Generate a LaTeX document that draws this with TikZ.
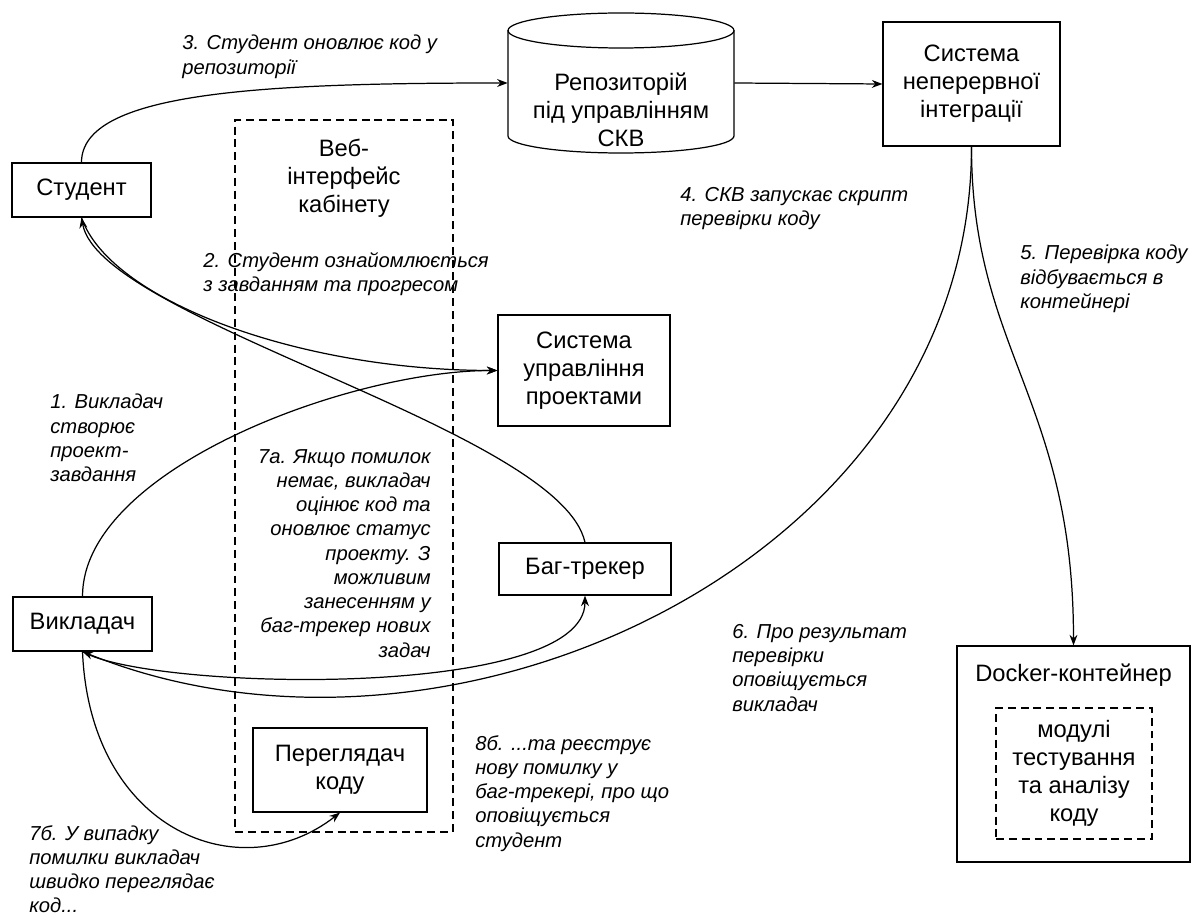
\documentclass[tikz,border=0pt]{standalone}
\usepackage{fontspec}
\setmainfont{Liberation Sans}
\usetikzlibrary{arrows.meta}

\begin{document}
\begin{tikzpicture}
    [x=0.02cm, y=-0.02cm,
    bsty/.style={rectangle, draw, line width=0.7pt, inner sep=0pt, align=center, font=\fontsize{13.5}{16}\selectfont},
    dsty/.style={rectangle, draw, line width=0.7pt, dash pattern=on 4.5pt off 2.8pt, inner sep=0pt},
    tsty/.style={align=center, inner sep=0pt, font=\fontsize{13.5}{16}\selectfont},
    lsty/.style={align=left, inner sep=0pt, font=\itshape\fontsize{11.5}{13.8}\selectfont},
    asty/.style={-{Stealth[length=6pt, width=4.5pt]}, line width=0.7pt}]
    \useasboundingbox (0,0) rectangle (1191,918);
    % web cabinet frame
    \node[dsty, minimum width=4.36cm, minimum height=14.24cm,
        label={[tsty, anchor=north, yshift=-0.38cm]north:Веб-\\інтерфейс\\кабінету}] (web) at (344,476) {};
    % systems
    \node[bsty, minimum width=2.78cm, minimum height=1.08cm] (student) at (81.5,190) {Студент};
    \node[inner sep=0pt, minimum width=4.52cm, minimum height=2.8cm,
        label={[tsty, yshift=-0.54cm]center:Репозиторій\\під управлінням\\СКВ}] (repo) at (621,83) {};
    \draw[line width=0.7pt] (621,30.5) ellipse [x radius=2.26cm, y radius=0.35cm];
    \draw[line width=0.7pt] (508,30.5) -- (508,136) arc[start angle=180, end angle=360, x radius=2.26cm, y radius=0.34cm] -- (734,30.5);
    \node[bsty, minimum width=3.54cm, minimum height=2.48cm] (ci) at (971.5,84) {Система\\неперервної\\інтеграції};
    \node[bsty, minimum width=3.44cm, minimum height=2.22cm] (pm) at (584,370.5) {Система\\управління\\проектами};
    \node[bsty, minimum width=3.44cm, minimum height=1.04cm] (bug) at (585,569) {Баг-трекер};
    \node[bsty, minimum width=2.78cm, minimum height=1.08cm] (teacher) at (82.5,624) {Викладач};
    \node[bsty, minimum width=3.48cm, minimum height=1.68cm] (viewer) at (340,770) {Переглядач\\коду};
    % container
    \node[bsty, minimum width=4.66cm, minimum height=4.32cm,
        label={[tsty, anchor=north, yshift=-0.36cm]north:Docker-контейнер}] (docker) at (1073.5,754) {};
    \node[dsty, minimum width=3.12cm, minimum height=2.62cm, align=center,
        font=\fontsize{13.5}{16}\selectfont] (modules) at (1074,773.5) {модулі\\тестування\\та аналізу\\коду};
    % steps
    \node[lsty, anchor=north west] (l1) at (50,394) {1. Викладач\\створює\\проект-\\завдання};
    \node[lsty, anchor=north west] (l2) at (203,252) {2. Студент ознайомлюється\\з завданням та прогресом};
    \node[lsty, anchor=north west] (l3) at (182,35) {3. Студент оновлює код у\\репозиторії};
    \node[lsty, anchor=north west] (l4) at (680,187) {4. СКВ запускає скрипт\\перевірки коду};
    \node[lsty, anchor=north west] (l5) at (1020,245) {5. Перевірка коду\\відбувається в\\контейнері};
    \node[lsty, anchor=north west] (l6) at (732,624) {6. Про результат\\перевірки\\оповіщується\\викладач};
    \node[lsty, anchor=north east, align=right] (l7a) at (431,449) {7а. Якщо помилок\\немає, викладач\\оцінює код та\\оновлює статус\\проекту. З\\можливим\\занесенням у\\баг-трекер нових\\задач};
    \node[lsty, anchor=north west] (l7b) at (29,825) {7б. У випадку\\помилки викладач\\швидко переглядає\\код...};
    \node[lsty, anchor=north west] (l8b) at (475,735) {8б. ...та реєструє\\нову помилку у\\баг-трекері, про що\\оповіщується\\студент};
    % flows
    \draw[asty] (student.north) .. controls +(0,-70) and +(-250,0) .. (repo.west);
    \draw[asty] (repo.east) -- (ci.west);
    \draw[asty] (ci.south) .. controls +(0,204) and +(0,-246) .. (docker.north);
    \draw[asty] (ci.south) .. controls +(0,414) and +(368,149) .. (teacher.south);
    \draw[asty] (teacher.north) .. controls +(0,-127) and +(-148,0) .. (pm.west);
    \draw[asty] (student.south) .. controls +(28.5,83) and +(-198,0) .. (pm.west);
    \draw[asty] (bug.north) .. controls +(-25,-113) and +(18.5,103) .. (student.south);
    \draw[asty] (teacher.south) .. controls +(67.5,39) and +(0,105) .. (bug.south);
    \draw[asty] (teacher.south) .. controls +(7.5,179) and +(-100,78) .. (viewer.south);
\end{tikzpicture}
\end{document}
